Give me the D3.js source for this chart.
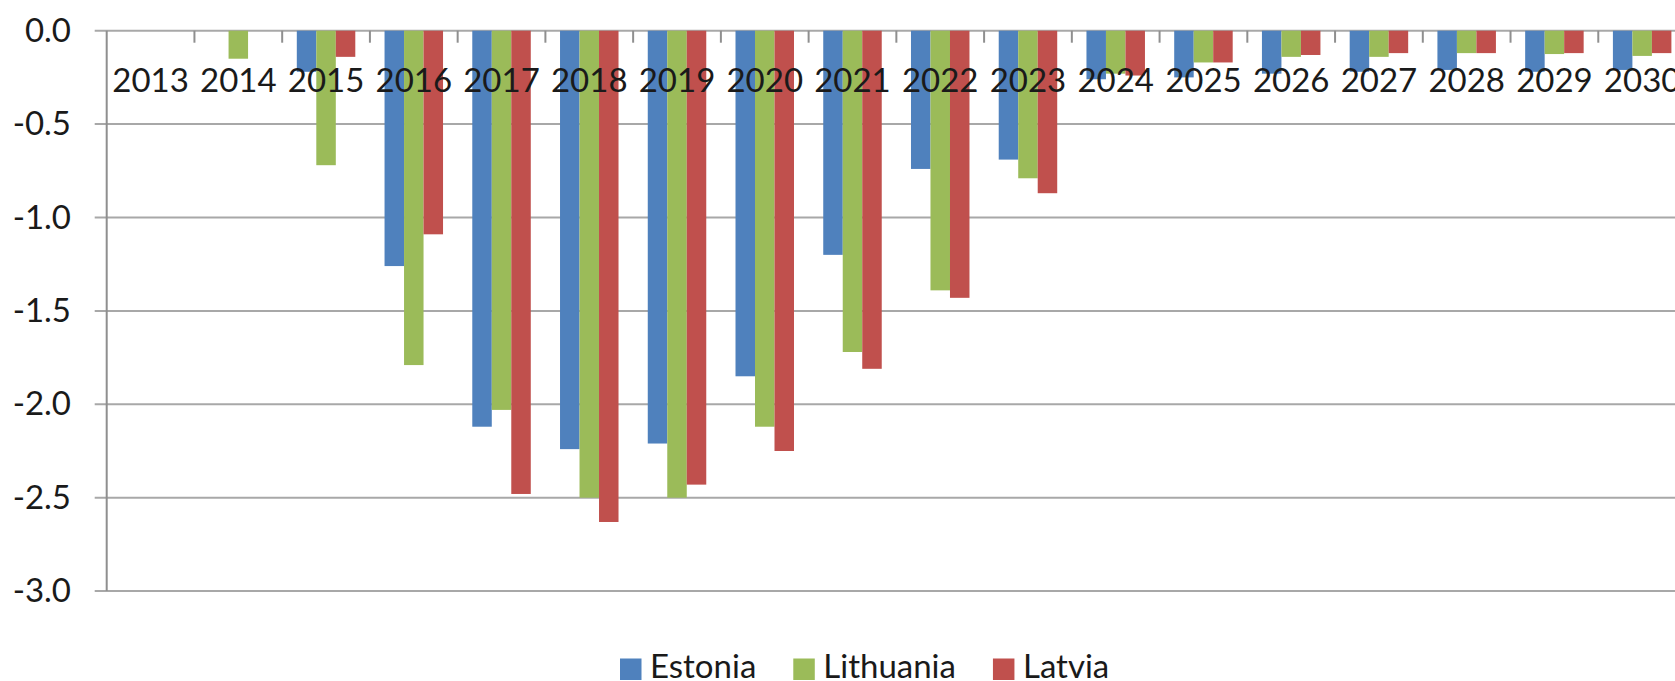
<!DOCTYPE html>
<html>
<head>
<meta charset="utf-8">
<script src="https://cdn.jsdelivr.net/npm/d3@7"></script>
<style>
  body { margin: 0; background: #fff; }
  svg { display: block; font-family: Lato, "Open Sans", sans-serif; }
</style>
</head>
<body>
<div id="chart"></div>
<script>
// values
const years = ['2013', '2014', '2015', '2016', '2017', '2018', '2019', '2020', '2021',
  '2022', '2023', '2024', '2025', '2026', '2027', '2028', '2029', '2030'];
const seriesNames = ['Estonia', 'Lithuania', 'Latvia'];
const estonia = [0, 0, -0.22, -1.26, -2.12, -2.24, -2.21, -1.85, -1.20,
  -0.74, -0.69, -0.26, -0.25, -0.23, -0.22, -0.21, -0.22, -0.21];
const lithuania = [0, -0.15, -0.72, -1.79, -2.03, -2.50, -2.50, -2.12, -1.72,
  -1.39, -0.79, -0.23, -0.17, -0.14, -0.14, -0.12, -0.125, -0.135];
const latvia = [0, 0, -0.14, -1.09, -2.48, -2.63, -2.43, -2.25, -1.81,
  -1.43, -0.87, -0.24, -0.17, -0.13, -0.12, -0.12, -0.12, -0.12];
const yTicks = [0, -0.5, -1.0, -1.5, -2.0, -2.5, -3.0];

const colors = { Estonia: '#4F81BD', Lithuania: '#9BBB59', Latvia: '#C0504D' };
const values = { Estonia: estonia, Lithuania: lithuania, Latvia: latvia };

const width = 1675, height = 681;
const plotLeft = 106.7, catW = 87.74;
const plotRight = plotLeft + catW * years.length; // runs past the right edge, as in the picture
const plotTop = 30.7, plotBottom = 591.1;

const svg = d3.select('#chart')
  .append('svg')
  .attr('width', width)
  .attr('height', height);

const x0 = d3.scaleBand().domain(years).range([plotLeft, plotRight]).padding(0);
// gap width 150% like the Excel default
const barW = x0.bandwidth() / 4.5;
const x1 = d3.scaleBand().domain(seriesNames)
  .range([barW * 0.75, barW * 3.75]).padding(0);
const y = d3.scaleLinear().domain([0, -3]).range([plotTop, plotBottom]);

// gridlines
svg.append('g')
  .selectAll('line')
  .data(yTicks)
  .enter()
  .append('line')
  .attr('x1', plotLeft - 12)
  .attr('x2', width)
  .attr('y1', d => y(d))
  .attr('y2', d => y(d))
  .attr('stroke', '#a8a8a8')
  .attr('stroke-width', 2);

// y axis line
svg.append('line')
  .attr('x1', plotLeft).attr('x2', plotLeft)
  .attr('y1', y(0)).attr('y2', y(-3))
  .attr('stroke', '#8f8f8f')
  .attr('stroke-width', 2);

// category tick marks hanging from the zero line
svg.append('g')
  .selectAll('line')
  .data(years.slice(1))
  .enter()
  .append('line')
  .attr('x1', d => x0(d))
  .attr('x2', d => x0(d))
  .attr('y1', y(0))
  .attr('y2', y(0) + 12)
  .attr('stroke', '#8f8f8f')
  .attr('stroke-width', 2);

// bars
const groups = svg.append('g')
  .selectAll('g')
  .data(years)
  .enter()
  .append('g')
  .attr('transform', d => `translate(${x0(d)},0)`);

groups.selectAll('rect')
  .data((d, i) => seriesNames.map(s => ({ series: s, value: values[s][i] })))
  .enter()
  .append('rect')
  .attr('x', d => x1(d.series))
  .attr('width', x1.bandwidth())
  .attr('y', y(0))
  .attr('height', d => y(d.value) - y(0))
  .attr('fill', d => colors[d.series]);

// y labels
svg.append('g')
  .selectAll('text')
  .data(yTicks)
  .enter()
  .append('text')
  .attr('x', 71)
  .attr('y', d => y(d) + 11)
  .attr('text-anchor', 'end')
  .style('font-size', '33px')
  .style('fill', '#1a1a1a')
  .text(d => d3.format('.1f')(d).replace('−', '-'));

// x labels, drawn over the bars
svg.append('g')
  .selectAll('text')
  .data(years)
  .enter()
  .append('text')
  .attr('x', d => x0(d) + x0.bandwidth() / 2)
  .attr('y', 91.7)
  .attr('text-anchor', 'middle')
  .style('font-size', '33px')
  .style('fill', '#1a1a1a')
  .text(d => d);

// legend
const legend = svg.append('g');
let lx = 620;
seriesNames.forEach(name => {
  legend.append('rect')
    .attr('x', lx)
    .attr('y', 658.5)
    .attr('width', 21.5)
    .attr('height', 21.5)
    .attr('fill', colors[name]);
  const t = legend.append('text')
    .attr('x', lx + 30)
    .attr('y', 677.5)
    .style('font-size', '33px')
    .style('fill', '#1a1a1a')
    .text(name);
  lx += 30 + t.node().getComputedTextLength() + 37;
});
</script>
</body>
</html>
